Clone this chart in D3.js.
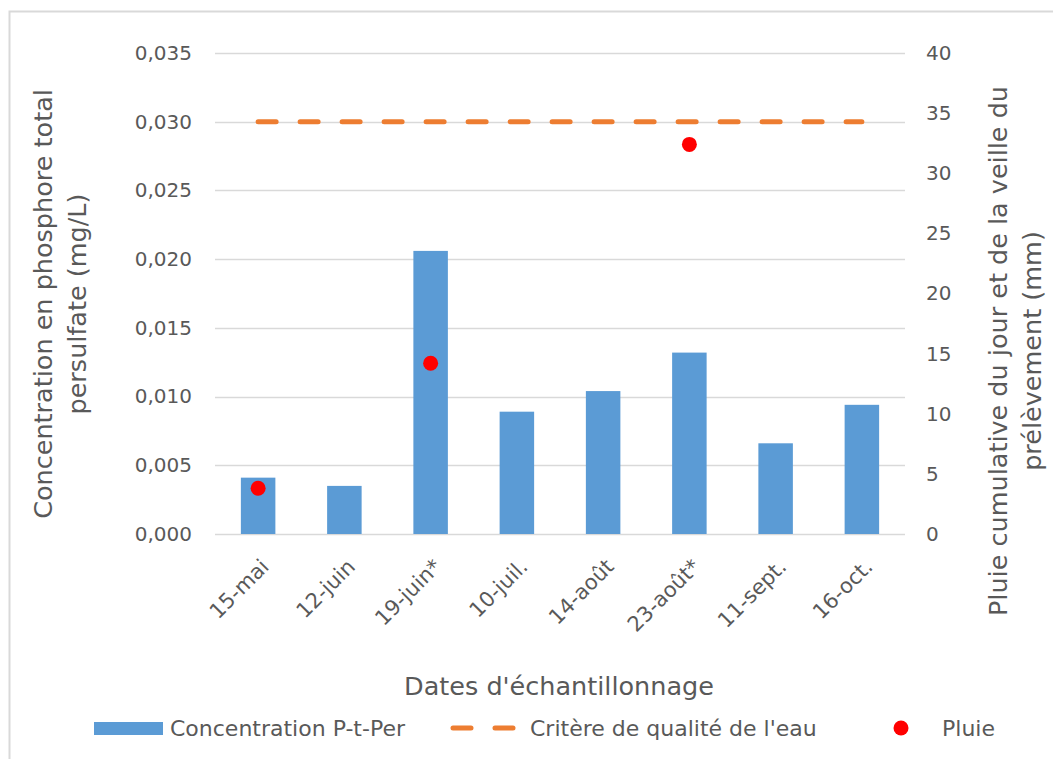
<!DOCTYPE html>
<html lang="fr">
<head>
<meta charset="UTF-8">
<title>Concentration P-t-Per</title>
<script src="https://d3js.org/d3.v7.min.js"></script>
<style>
  body { margin: 0; background: #fff; }
  text { font-family: "Century Gothic", "DejaVu Sans", sans-serif; fill: #595959; }
</style>
</head>
<body>
<div id="chart"></div>
<script>
// data
var dates = ["15-mai", "12-juin", "19-juin*", "10-juil.", "14-août", "23-août*", "11-sept.", "16-oct."];
var concentration = [0.0041, 0.0035, 0.0206, 0.0089, 0.0104, 0.0132, 0.0066, 0.0094];
var critere = [0.030, 0.030, 0.030, 0.030, 0.030, 0.030, 0.030, 0.030];
var pluie = [3.8, null, 14.2, null, null, 32.4, null, null];
var leftTicks = [0, 0.005, 0.010, 0.015, 0.020, 0.025, 0.030, 0.035];
var rightTicks = [0, 5, 10, 15, 20, 25, 30, 35, 40];

var W = 1053, H = 759;
var margin = {top: 53, right: 148, bottom: 225, left: 215},
    width = W - margin.left - margin.right,
    height = H - margin.top - margin.bottom;

var svg = d3.select("#chart").append("svg")
    .attr("width", W).attr("height", H);

// chart border (only left and top visible)
svg.append("path")
    .attr("d", "M9.5," + H + "V11.5H" + W)
    .attr("fill", "none").attr("stroke", "#d9d9d9").attr("stroke-width", 2);

var g = svg.append("g").attr("transform", "translate(" + margin.left + "," + margin.top + ")");

var x = d3.scaleBand().domain(dates).range([0, width]).paddingInner(0.6).paddingOuter(0.3);
var y = d3.scaleLinear().domain([0, 0.035]).range([height, 0]);
var y2 = d3.scaleLinear().domain([0, 40]).range([height, 0]);
var fmt = function(d) { return d3.format(".3f")(d).replace(".", ","); };

// gridlines
g.append("g").selectAll("line").data(leftTicks).enter().append("line")
    .attr("x1", 0).attr("x2", width)
    .attr("y1", function(d) { return Math.round(y(d)) + 0.5; })
    .attr("y2", function(d) { return Math.round(y(d)) + 0.5; })
    .attr("stroke", "#d9d9d9").attr("stroke-width", 1.5);

// left axis
var yAxis = g.append("g")
    .call(d3.axisLeft(y).tickValues(leftTicks).tickFormat(fmt).tickSize(0).tickPadding(23));
yAxis.select(".domain").remove();
yAxis.selectAll("text").style("font-size", "20px").attr("fill", "#595959");

// right axis
var yAxis2 = g.append("g").attr("transform", "translate(" + width + ",0)")
    .call(d3.axisRight(y2).tickValues(rightTicks).tickSize(0).tickPadding(21));
yAxis2.select(".domain").remove();
yAxis2.selectAll("text").style("font-size", "20px").attr("fill", "#595959");

// x axis labels
var xAxis = g.append("g").attr("transform", "translate(0," + height + ")")
    .call(d3.axisBottom(x).tickSize(0).tickPadding(0));
xAxis.select(".domain").remove();
xAxis.selectAll("text")
    .style("font-size", "21px").attr("fill", "#595959")
    .attr("text-anchor", "end")
    .attr("dy", "0")
    .attr("transform", "translate(12,34) rotate(-45)");

// bars
g.selectAll(".bar").data(concentration).enter().append("rect")
    .attr("x", function(d, i) { return x(dates[i]); })
    .attr("y", function(d) { return y(d); })
    .attr("width", x.bandwidth())
    .attr("height", function(d) { return height - y(d); })
    .attr("fill", "#5b9bd5");

// criterion line
var line = d3.line()
    .x(function(d, i) { return x(dates[i]) + x.bandwidth() / 2; })
    .y(function(d) { return y(d); });
g.append("path").datum(critere)
    .attr("d", line)
    .attr("fill", "none").attr("stroke", "#ed7d31")
    .attr("stroke-width", 5).attr("stroke-linecap", "round")
    .attr("stroke-dasharray", "18,24");

// rain points
g.selectAll(".pluie").data(pluie).enter()
    .filter(function(d) { return d != null; })
    .append("circle")
    .attr("cx", function(d) { return x(dates[pluie.indexOf(d)]) + x.bandwidth() / 2; })
    .attr("cy", function(d) { return y2(d); })
    .attr("r", 7.5)
    .attr("fill", "#ff0000");

// axis titles
svg.append("text")
    .attr("transform", "translate(52,304) rotate(-90)")
    .attr("text-anchor", "middle").style("font-size", "25.5px")
    .text("Concentration en phosphore total");
svg.append("text")
    .attr("transform", "translate(86,304) rotate(-90)")
    .attr("text-anchor", "middle").style("font-size", "25.5px")
    .text("persulfate (mg/L)");
svg.append("text")
    .attr("transform", "translate(1007,351) rotate(-90)")
    .attr("text-anchor", "middle").style("font-size", "25.5px")
    .text("Pluie cumulative du jour et de la veille du");
svg.append("text")
    .attr("transform", "translate(1041,351) rotate(-90)")
    .attr("text-anchor", "middle").style("font-size", "25.5px")
    .text("prélèvement (mm)");
svg.append("text")
    .attr("x", 559).attr("y", 695)
    .attr("text-anchor", "middle").style("font-size", "25.5px")
    .text("Dates d'échantillonnage");

// legend
var lg = svg.append("g");
lg.append("rect").attr("x", 94).attr("y", 722).attr("width", 69).attr("height", 13).attr("fill", "#5b9bd5");
lg.append("text").attr("x", 170).attr("y", 736).style("font-size", "22px").text("Concentration P-t-Per");
lg.append("line").attr("x1", 453).attr("x2", 514).attr("y1", 728).attr("y2", 728)
    .attr("stroke", "#ed7d31").attr("stroke-width", 5).attr("stroke-linecap", "round")
    .attr("stroke-dasharray", "18,24");
lg.append("text").attr("x", 530).attr("y", 736).style("font-size", "22px").text("Critère de qualité de l'eau");
lg.append("circle").attr("cx", 901).attr("cy", 728).attr("r", 7.5).attr("fill", "#ff0000");
lg.append("text").attr("x", 942).attr("y", 736).style("font-size", "22px").text("Pluie");
</script>
</body>
</html>
